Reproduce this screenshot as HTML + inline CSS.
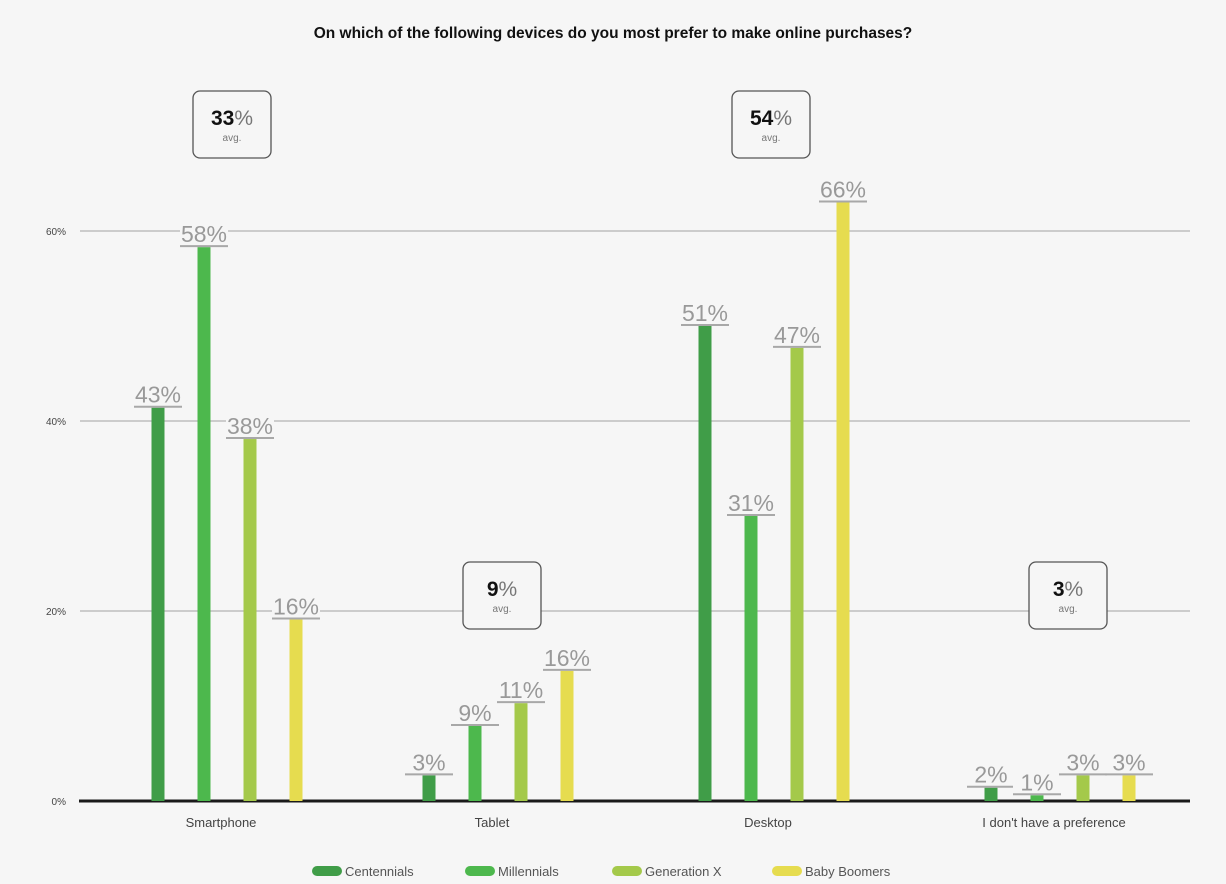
<!DOCTYPE html>
<html><head><meta charset="utf-8"><style>
body{margin:0;background:#f6f6f6;font-family:"Liberation Sans",sans-serif;}
svg{display:block}
</style></head><body>
<svg id="chart" width="1226" height="884" viewBox="0 0 1226 884">
<rect width="1226" height="884" fill="#f6f6f6"/>
<text x="613" y="38" text-anchor="middle" font-size="15.5" font-weight="bold" fill="#111">On which of the following devices do you most prefer to make online purchases?</text>
<g id="grid"></g>
<g id="bars"></g>
<g id="labels"></g>
<g id="avgs"></g>
<g id="legend"></g>
</svg>
<script>
const categories=["Smartphone","Tablet","Desktop","I don't have a preference"];
const seriesNames=["Centennials","Millennials","Generation X","Baby Boomers"];
const centennials=[41.4,2.7,50,1.4];
const millennials=[58.3,7.9,30,0.6];
const genX=[38.1,10.3,47.7,2.7];
const boomers=[19.1,13.7,63,2.7];
const centennialsLabels=["43%","3%","51%","2%"];
const millennialsLabels=["58%","9%","31%","1%"];
const genXLabels=["38%","11%","47%","3%"];
const boomersLabels=["16%","16%","66%","3%"];
const avgValues=["33","9","54","3"];
const yTicks=[0,20,40,60];
const colors=["#409d48","#4db84d","#a4c94a","#e6dc4f"];
const series=[centennials,millennials,genX,boomers];
const seriesLabels=[centennialsLabels,millennialsLabels,genXLabels,boomersLabels];
const NS="http://www.w3.org/2000/svg";
function mk(t,a,p,txt){const e=document.createElementNS(NS,t);for(const k in a)e.setAttribute(k,a[k]);if(txt!==undefined)e.textContent=txt;p.appendChild(e);return e;}
const y0=801,pxPer=9.5;
function y(v){return y0-v*pxPer;}
const groupCenters=[227,498,774,1060];
function x(gi,si){return groupCenters[gi]+(si-1.5)*46;}
const grid=document.getElementById('grid');
yTicks.forEach(t=>{
  if(t>0){const l=mk('line',{x1:80,x2:1190,y1:y(t),y2:y(t),stroke:'#bdbdbd','stroke-width':1.5},grid);
  }
  const tx=mk('text',{x:66,y:y(t)+4,'text-anchor':'end','font-size':10,fill:'#444'},grid,t+'%');
  
});
const axis=mk('line',{x1:79,x2:1190,y1:y0,y2:y0,stroke:'#1a1a1a','stroke-width':3},grid);

categories.forEach((c,gi)=>{
  const t=mk('text',{x:groupCenters[gi]-6,y:827,'text-anchor':'middle','font-size':13,fill:'#444'},grid,c);
  
});
const bars=document.getElementById('bars'),labels=document.getElementById('labels');
series.forEach((s,si)=>{s.forEach((v,gi)=>{
  const cx=x(gi,si);
  const r=mk('rect',{x:cx-6.5,y:y(v),width:13,height:y0-y(v),fill:colors[si]},bars);
  
  const bg=mk('rect',{x:cx-24,y:y(v)-28,width:48,height:26,fill:'#f6f6f6'},labels);
  
  const ln=mk('line',{x1:cx-24,x2:cx+24,y1:y(v)-1,y2:y(v)-1,stroke:'#a8a8a8','stroke-width':2},labels);
  
  const t=mk('text',{x:cx,y:y(v)-5,'text-anchor':'middle','font-size':23,fill:'#999'},labels,seriesLabels[si][gi]);
  
});});
const avgs=document.getElementById('avgs');
const avgPos=[[232,91],[502,562],[771,91],[1068,562]];
avgValues.forEach((a,i)=>{
  const [cx,ty]=avgPos[i];
  const r=mk('rect',{x:cx-39,y:ty,width:78,height:67,rx:7,fill:'#f6f6f6',stroke:'#555','stroke-width':1.3},avgs);
  
  const t=mk('text',{x:cx,y:ty+34,'text-anchor':'middle',fill:'#111'},avgs);
  
  mk('tspan',{'font-size':21,'font-weight':'bold'},t,a);
  mk('tspan',{'font-size':21,fill:'#777'},t,'%');
  const s=mk('text',{x:cx,y:ty+50,'text-anchor':'middle','font-size':10,fill:'#777'},avgs,'avg.');
  
});
const legend=document.getElementById('legend');
const legX=[312,465,612,772];
seriesNames.forEach((n,i)=>{
  const r=mk('rect',{x:legX[i],y:866,width:30,height:10,rx:5,fill:colors[i]},legend);
  
  const t=mk('text',{x:legX[i]+33,y:876,'font-size':13,fill:'#555'},legend,n);
  
});
</script>
</body></html>
